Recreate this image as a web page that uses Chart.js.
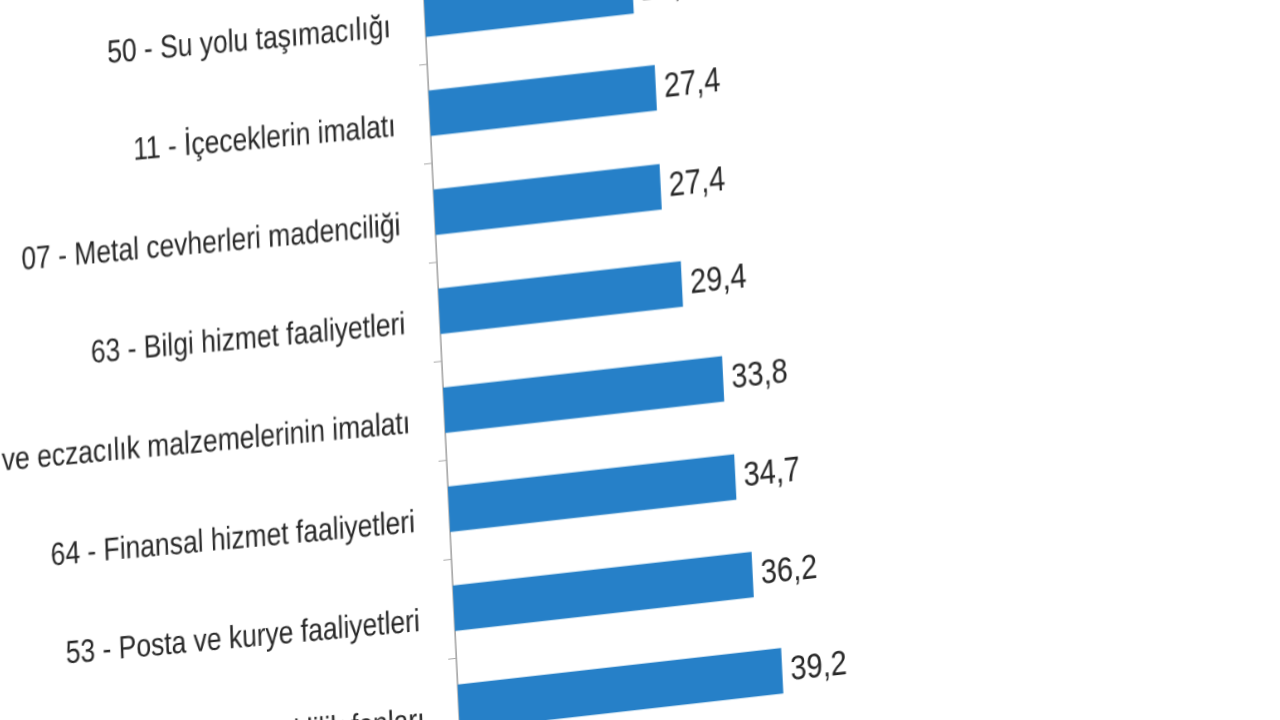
<!DOCTYPE html>
<html>
<head>
<meta charset="utf-8">
<script src="https://cdn.jsdelivr.net/npm/chart.js@4.4.1/dist/chart.umd.min.js"></script>
<style>
    html, body { margin: 0; padding: 0; background: #fff; overflow: hidden; }
    body { width: 1280px; height: 720px; position: relative; }
    /* the reference photo is skewed and squeezed, so the canvas is too */
    #chart {
        position: absolute;
        left: -160px;
        top: -70px;
        transform-origin: 0 0;
        transform: matrix(0.825, -0.0932, 0.049, 1, 0, 0);
        filter: blur(0.5px);
    }
</style>
</head>
<body>
<canvas id="chart" width="1400" height="1000"></canvas>
<script>
// Data
const categories = [
    '50 - Su yolu taşımacılığı',
    '11 - İçeceklerin imalatı',
    '07 - Metal cevherleri madenciliği',
    '63 - Bilgi hizmet faaliyetleri',
    '21 - Temel eczacılık ürünlerinin ve eczacılık malzemelerinin imalatı',
    '64 - Finansal hizmet faaliyetleri',
    '53 - Posta ve kurye faaliyetleri',
    '65 - Sigorta, reasürans ve emeklilik fonları'
];
const values = [25.2, 27.4, 27.4, 29.4, 33.8, 34.7, 36.2, 39.2];

const fontFamily = "'Liberation Sans', Arial, sans-serif";

// value labels at the end of each bar
const valueLabels = {
    id: 'valueLabels',
    afterDatasetsDraw(chart) {
        const ctx = chart.ctx;
        const meta = chart.getDatasetMeta(0);
        ctx.save();
        ctx.font = `35px ${fontFamily}`;
        ctx.fillStyle = '#262626';
        ctx.textAlign = 'left';
        ctx.textBaseline = 'middle';
        meta.data.forEach((bar, i) => {
            ctx.fillText(values[i].toFixed(1).replace('.', ','), bar.x + 10, bar.y + 1);
        });
        ctx.restore();
    }
};

new Chart(document.getElementById('chart').getContext('2d'), {
    type: 'bar',
    data: {
        labels: categories,
        datasets: [{
            data: values,
            backgroundColor: '#2680c8',
            borderWidth: 0,
            categoryPercentage: 0.46,
            barPercentage: 1
        }]
    },
    options: {
        indexAxis: 'y',
        responsive: false,
        animation: false,
        devicePixelRatio: 1,
        layout: { padding: { top: 100, bottom: 108, left: 0, right: 200 } },
        plugins: {
            legend: { display: false },
            tooltip: { enabled: false }
        },
        scales: {
            x: {
                display: false,
                min: 0,
                max: 50
            },
            y: {
                afterFit: (scale) => { scale.width = 700; },
                border: { display: true, color: '#aaa', width: 2 },
                grid: {
                    drawOnChartArea: false,
                    drawTicks: true,
                    tickLength: 10,
                    color: '#aaa'
                },
                ticks: {
                    color: '#262626',
                    padding: 32,
                    labelOffset: 10,
                    minRotation: -1,
                    maxRotation: -1,
                    autoSkip: false,
                    font: { family: fontFamily, size: 32 }
                }
            }
        }
    },
    plugins: [valueLabels]
});
</script>
</body>
</html>
